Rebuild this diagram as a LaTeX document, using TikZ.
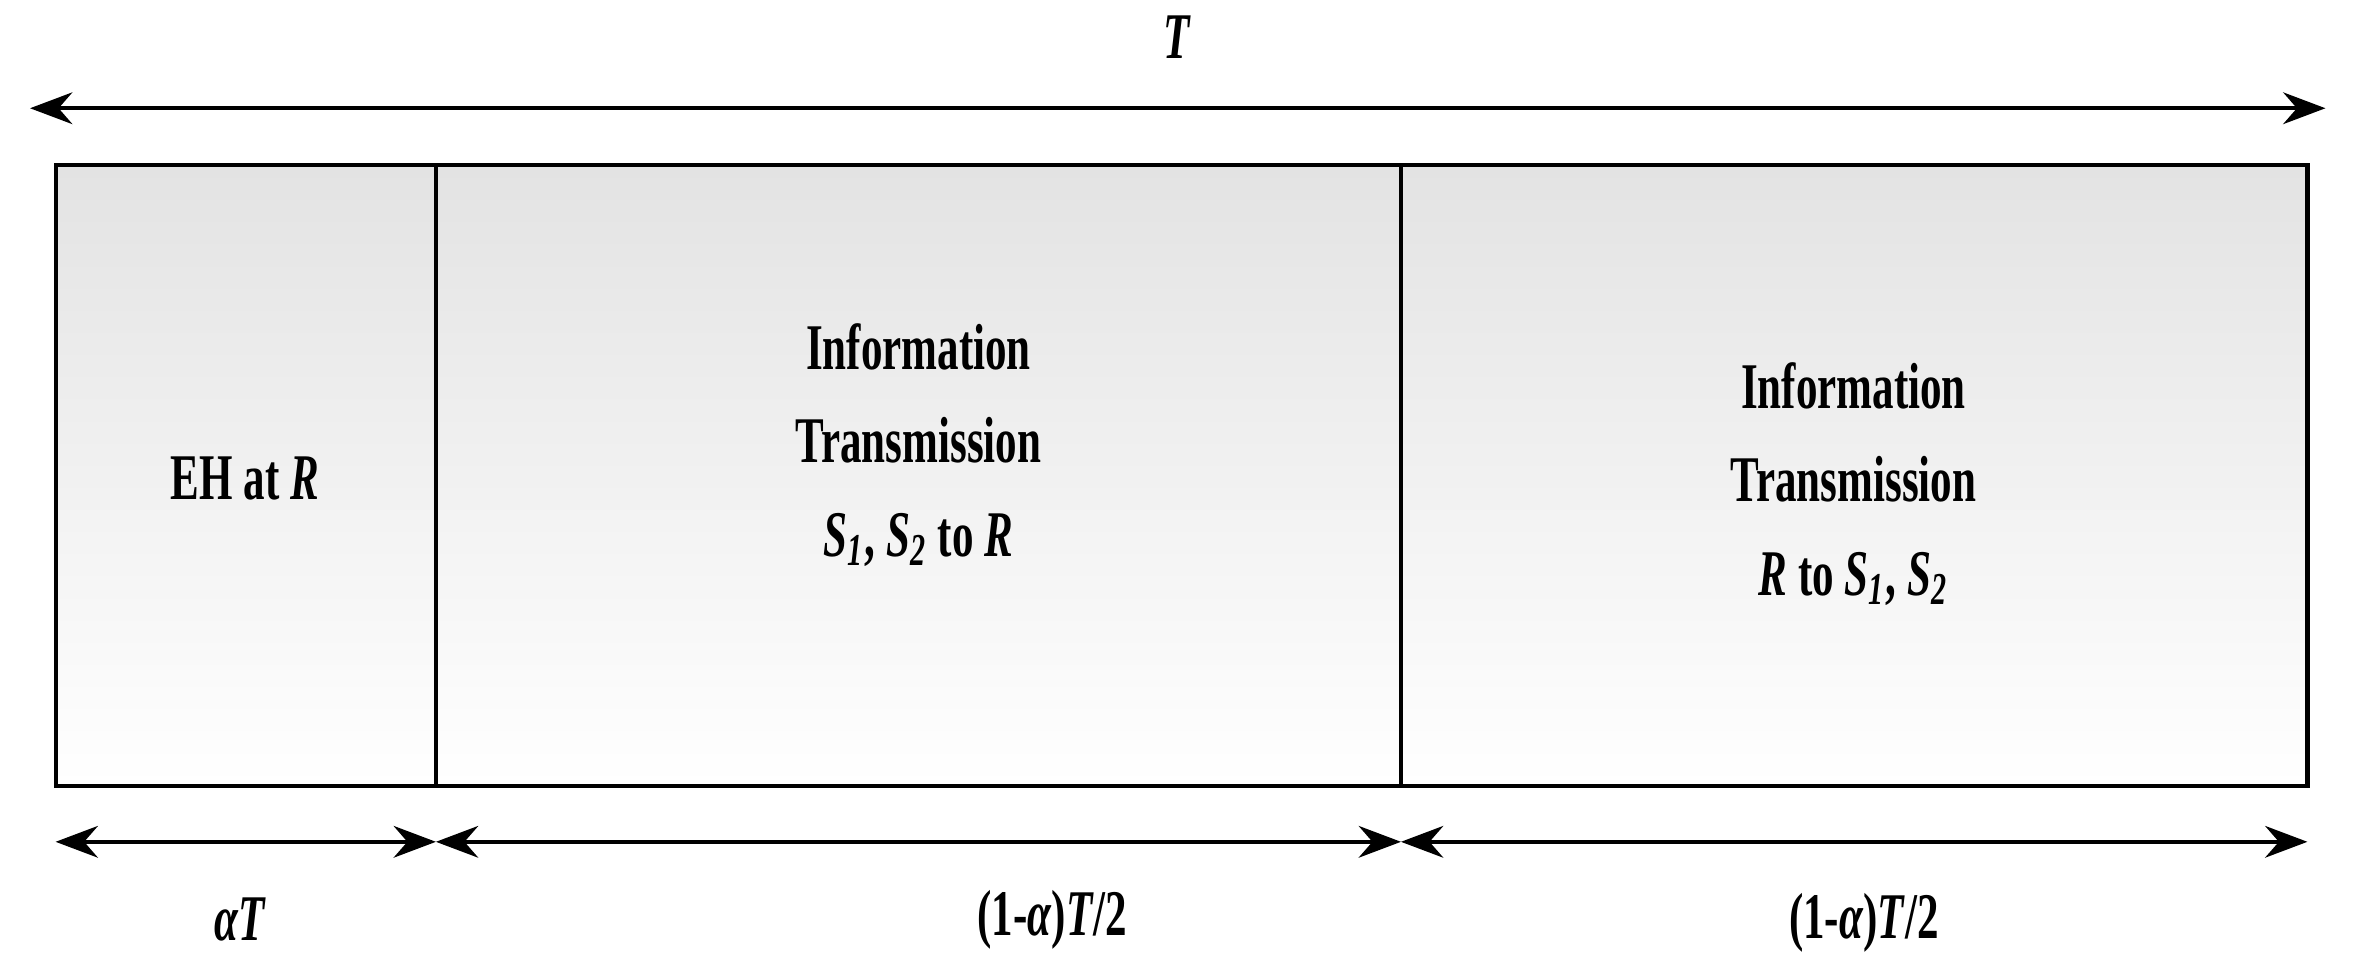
\documentclass[tikz,border=0pt]{standalone}
\usepackage{fontspec}
\setmainfont{Liberation Serif}[FakeStretch=0.66]
\usetikzlibrary{arrows.meta}
\begin{document}
\begin{tikzpicture}[x=0.015cm,y=-0.015cm,
  seg/.style={draw=black,line width=1.2pt,top color=gray!22,bottom color=white},
  dim/.style={line width=1.1pt,{Stealth[length=12pt,width=9pt]}-{Stealth[length=12pt,width=9pt]}},
  lab/.style={font=\fontsize{18.5}{26.5}\selectfont\bfseries,align=center}]
\useasboundingbox (0,0) rectangle (1568,644);
\path[seg] (37,110) rectangle (290,523);
\path[seg] (290,110) rectangle (932,523);
\path[seg] (932,110) rectangle (1535,523);
\node[lab] (a) at (163,318) {EH at \textit{R}};
\node[lab] (b) at (611,296) {Information\\Transmission\\\textit{S\textsubscript{1}}, \textit{S\textsubscript{2}} to \textit{R}};
\node[lab] (c) at (1233,322) {Information\\Transmission\\\textit{R} to \textit{S\textsubscript{1}}, \textit{S\textsubscript{2}}};
\coordinate (t1) at (20,72); \coordinate (t2) at (1547,72);
\draw[dim] (t1) -- (t2);
\node[lab] (T) at (783,25) {\textit{T}};
\coordinate (b0) at (37,560); \coordinate (b1) at (290,560);
\coordinate (b2) at (932,560); \coordinate (b3) at (1535,560);
\draw[dim] (b0) -- (b1);
\draw[dim] (b1) -- (b2);
\draw[dim] (b2) -- (b3);
\node[lab] (l1) at (160,612) {\textit{αT}};
\node[lab] (l2) at (700,612) {(1-\textit{α})\textit{T}/2};
\node[lab] (l3) at (1240,614) {(1-\textit{α})\textit{T}/2};
\end{tikzpicture}
\end{document}
